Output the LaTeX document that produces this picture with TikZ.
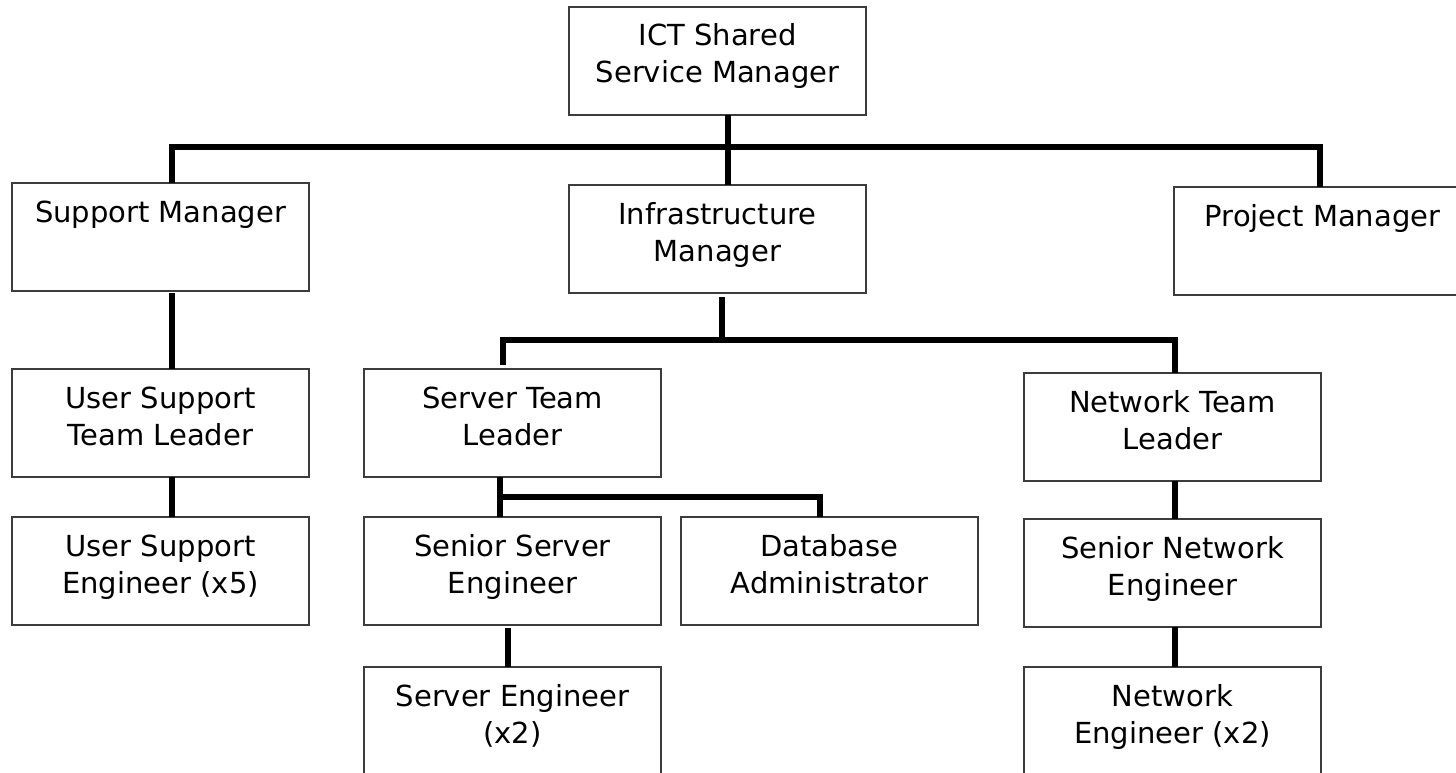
\documentclass[tikz,border=0pt]{standalone}
\usepackage{fontspec}
\setmainfont{DejaVu Sans}

% A fixed-size cell: two centred lines, first baseline 39pt below the top edge
\newcommand\orgcell[2]{\parbox[c][108pt][t]{297pt}{\centering
  \fontsize{29pt}{37pt}\selectfont\rule{0pt}{39pt}#1\\#2}}

\tikzset{
  post/.style={draw={rgb,255:red,60;green,60;blue,60}, line width=1.3pt,
    fill=white, inner sep=0pt, outer sep=0pt, anchor=north west},
  conn/.style={line width=5.5pt, black, line join=miter}
}

\begin{document}
\begin{tikzpicture}[x=1pt, y=-1pt]
  \useasboundingbox (0,0) rectangle (1456,773);
  \clip (0,0) rectangle (1456,773);

  % positions
  \node[post] (ict)   at (569,7)    {\orgcell{ICT Shared}{Service Manager}};
  \node[post] (sup)   at (12,183)   {\orgcell{Support Manager}{}};
  \node[post] (inf)   at (569,185)  {\orgcell{Infrastructure}{Manager}};
  \node[post] (prj)   at (1174,187) {\orgcell{Project Manager}{}};
  \node[post] (ustl)  at (12,369)   {\orgcell{User Support}{Team Leader}};
  \node[post] (srvtl) at (364,369)  {\orgcell{Server Team}{Leader}};
  \node[post] (nettl) at (1024,373) {\orgcell{Network Team}{Leader}};
  \node[post] (use)   at (12,517)   {\orgcell{User Support}{Engineer (x5)}};
  \node[post] (sse)   at (364,517)  {\orgcell{Senior Server}{Engineer}};
  \node[post] (dba)   at (681,517)  {\orgcell{Database}{Administrator}};
  \node[post] (sne)   at (1024,519) {\orgcell{Senior Network}{Engineer}};
  \node[post] (se)    at (364,667)  {\orgcell{Server Engineer}{(x2)}};
  \node[post] (ne)    at (1024,667) {\orgcell{Network}{Engineer (x2)}};

  % bus junctions
  \coordinate (topbus) at (728,147);
  \coordinate (infbus) at (722,340);
  \coordinate (srvbus) at (500,497);

  % top level
  \draw[conn] ([xshift=10.5pt]ict.south) -- ([xshift=10.5pt]inf.north);
  \draw[conn] ([xshift=11.5pt]sup.north) |- (topbus) -| ([xshift=-2.5pt]prj.north);

  % support branch
  \draw[conn] ([xshift=11.5pt,yshift=-2pt]sup.south) -- ([xshift=11.5pt]ustl.north);
  \draw[conn] ([xshift=11.5pt]ustl.south) -- ([xshift=11.5pt]use.north);

  % infrastructure branch
  \draw[conn] ([xshift=4.5pt,yshift=-4pt]inf.south) -- (infbus);
  \draw[conn] ([xshift=-9.5pt,yshift=4pt]srvtl.north) |- (infbus) -| ([xshift=2.5pt]nettl.north);

  % server team
  \draw[conn] ([xshift=-12.5pt]srvtl.south) -- ([xshift=-12.5pt]sse.north);
  \draw[conn] (srvbus) -| ([xshift=-9.5pt]dba.north);
  \draw[conn] ([xshift=-4.5pt,yshift=-3pt]sse.south) -- ([xshift=-4.5pt]se.north);

  % network team
  \draw[conn] ([xshift=2.5pt]nettl.south) -- ([xshift=2.5pt]sne.north);
  \draw[conn] ([xshift=2.5pt]sne.south) -- ([xshift=2.5pt]ne.north);
\end{tikzpicture}
\end{document}
